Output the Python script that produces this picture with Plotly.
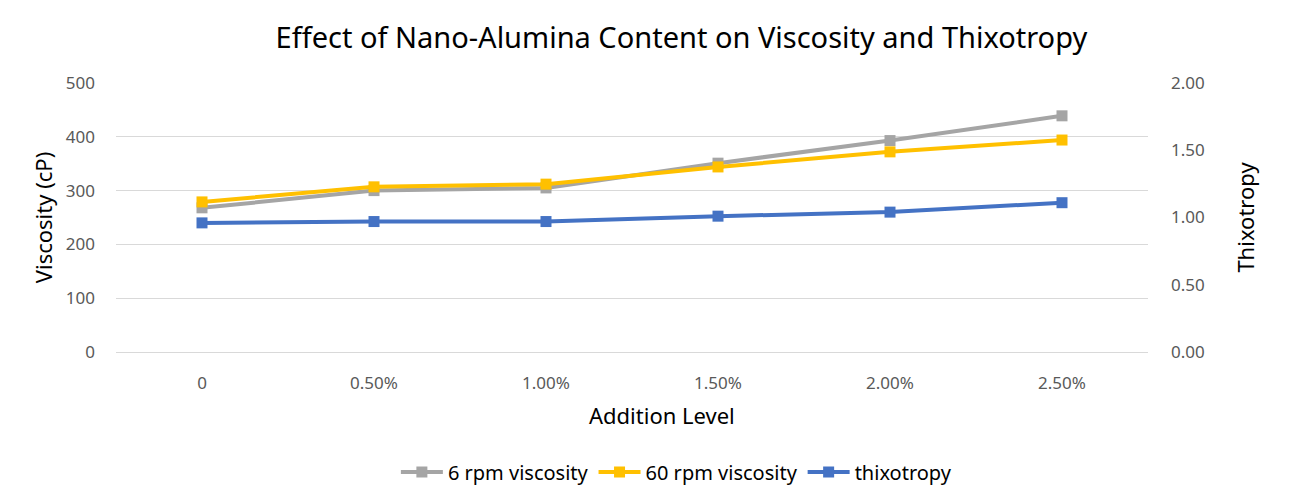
import plotly.graph_objects as go

# Data
addition_levels = ["0", "0.50%", "1.00%", "1.50%", "2.00%", "2.50%"]
visc_6rpm = [268, 300, 305, 351, 393, 439]
visc_60rpm = [279, 307, 312, 344, 372, 394]
thixotropy = [0.96, 0.97, 0.97, 1.01, 1.04, 1.11]

FONT = "Noto Sans, Open Sans, Arial, sans-serif"
TEXT = "#000000"
TICK_TEXT = "#595959"
GRID = "#d9d9d9"

fig = go.Figure()

fig.add_trace(go.Scatter(
    x=addition_levels, y=visc_6rpm, name="6 rpm viscosity",
    mode="lines+markers",
    line=dict(color="#A5A5A5", width=4),
    marker=dict(symbol="square", size=11, color="#A5A5A5"),
))
fig.add_trace(go.Scatter(
    x=addition_levels, y=visc_60rpm, name="60 rpm viscosity",
    mode="lines+markers",
    line=dict(color="#FFC000", width=4),
    marker=dict(symbol="square", size=11, color="#FFC000"),
))
fig.add_trace(go.Scatter(
    x=addition_levels, y=thixotropy, name="thixotropy",
    mode="lines+markers", yaxis="y2",
    line=dict(color="#4472C4", width=4),
    marker=dict(symbol="square", size=11, color="#4472C4"),
))

# page body has an 8px margin, so the figure is a bit smaller than the window
fig.update_layout(
    width=1305, height=488,
    paper_bgcolor="white", plot_bgcolor="white",
    font=dict(family=FONT, color=TEXT),
    margin=dict(l=108, r=165, t=75, b=144),
    title=dict(text="Effect of Nano-Alumina Content on Viscosity and Thixotropy",
               x=0.516, xanchor="center", y=0.938, yanchor="middle",
               font=dict(size=29, family=FONT, color=TEXT)),
    xaxis=dict(
        type="category", range=[-0.5, 5.5],
        showgrid=False, showline=True, linecolor=GRID, linewidth=1,
        ticks="", ticklabelstandoff=16,
        tickfont=dict(size=17, color=TICK_TEXT),
    ),
    yaxis=dict(
        range=[0, 500], dtick=100,
        showgrid=True, gridcolor=GRID, gridwidth=1,
        zeroline=False, showline=False,
        ticks="", ticklabelstandoff=20,
        tickfont=dict(size=17, color=TICK_TEXT),
        title=dict(text="Viscosity (cP)", font=dict(size=22, color=TEXT), standoff=7),
    ),
    yaxis2=dict(
        overlaying="y", side="right",
        range=[0, 2], dtick=0.5, tickformat=".2f",
        showgrid=False, zeroline=False, showline=False,
        ticks="", ticklabelstandoff=22,
        tickfont=dict(size=17, color=TICK_TEXT),
        title=dict(text="Thixotropy", font=dict(size=22, color=TEXT), standoff=34),
    ),
    legend=dict(orientation="h", x=0.543, xanchor="center",
                yref="container", y=0.049, yanchor="middle",
                font=dict(size=20, color=TEXT), itemwidth=42),
    showlegend=True,
    # x-axis title sits a little right of the plot centre in the original
    annotations=[dict(text="Addition Level", xref="paper", yref="paper",
                      x=0.529, y=-0.234, xanchor="center", yanchor="middle",
                      showarrow=False, font=dict(size=22, color=TEXT))],
)

fig.write_html("out.html")
